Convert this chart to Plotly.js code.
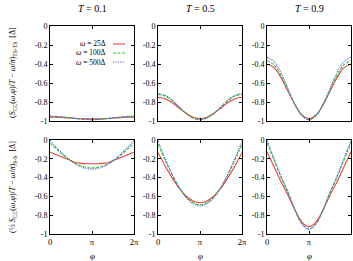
<!DOCTYPE html>
<html>
<head>
<meta charset="utf-8">
<script src="https://cdn.plot.ly/plotly-3.0.1.min.js"></script>
<style>
  html, body { margin: 0; padding: 0; background: #fff; }
  #chart { width: 353px; height: 261px; }
</style>
</head>
<body>
<div id="chart"></div>
<script>
// phase phi in units of pi
const phiOverPi = [0, 0.1667, 0.3333, 0.5, 0.6667, 0.8333, 1, 1.1667, 1.3333, 1.5, 1.6667, 1.8333, 2];

const temperatures = ['0.1', '0.5', '0.9'];
const seriesNames = ['ω = 25Δ', 'ω = 100Δ', 'ω = 500Δ'];

const xTickVals = [0, 1, 2];
const xTickText = ['0', 'π', '2π'];
const yTickVals = [0, -0.2, -0.4, -0.6, -0.8, -1];
const yTickText = ['0', '-0.2', '-0.4', '-0.6', '-0.8', '-1'];

// TS-TS channel, T = 0.1
const tsT01_w25  = [-0.960, -0.961, -0.965, -0.969, -0.974, -0.977, -0.978, -0.977, -0.974, -0.969, -0.965, -0.961, -0.960];
const tsT01_w100 = [-0.952, -0.954, -0.960, -0.969, -0.977, -0.983, -0.985, -0.983, -0.977, -0.969, -0.960, -0.954, -0.952];
const tsT01_w500 = [-0.948, -0.951, -0.958, -0.967, -0.977, -0.983, -0.986, -0.983, -0.977, -0.967, -0.958, -0.951, -0.948];
// TS-TS channel, T = 0.5
const tsT05_w25  = [-0.750, -0.765, -0.806, -0.863, -0.919, -0.960, -0.975, -0.960, -0.919, -0.863, -0.806, -0.765, -0.750];
const tsT05_w100 = [-0.720, -0.738, -0.786, -0.853, -0.919, -0.967, -0.985, -0.967, -0.919, -0.853, -0.786, -0.738, -0.720];
const tsT05_w500 = [-0.710, -0.729, -0.779, -0.849, -0.918, -0.968, -0.987, -0.968, -0.918, -0.849, -0.779, -0.729, -0.710];
// TS-TS channel, T = 0.9
const tsT09_w25  = [-0.400, -0.439, -0.544, -0.688, -0.831, -0.936, -0.975, -0.936, -0.831, -0.688, -0.544, -0.439, -0.400];
const tsT09_w100 = [-0.365, -0.407, -0.520, -0.675, -0.830, -0.943, -0.985, -0.943, -0.830, -0.675, -0.520, -0.407, -0.365];
const tsT09_w500 = [-0.330, -0.374, -0.494, -0.659, -0.823, -0.943, -0.987, -0.943, -0.823, -0.659, -0.494, -0.374, -0.330];

// S-S channel, T = 0.1
const ssT01_w25  = [-0.130, -0.160, -0.190, -0.220, -0.245, -0.252, -0.252, -0.252, -0.245, -0.220, -0.190, -0.160, -0.130];
const ssT01_w100 = [-0.035, -0.103, -0.166, -0.221, -0.263, -0.288, -0.297, -0.288, -0.263, -0.221, -0.166, -0.103, -0.035];
const ssT01_w500 = [-0.005, -0.084, -0.158, -0.222, -0.270, -0.300, -0.310, -0.300, -0.270, -0.222, -0.158, -0.084, -0.005];
// S-S channel, T = 0.5
const ssT05_w25  = [-0.135, -0.273, -0.400, -0.511, -0.596, -0.648, -0.665, -0.648, -0.596, -0.511, -0.400, -0.273, -0.135];
const ssT05_w100 = [-0.045, -0.212, -0.367, -0.502, -0.604, -0.667, -0.688, -0.667, -0.604, -0.502, -0.367, -0.212, -0.045];
const ssT05_w500 = [-0.015, -0.192, -0.358, -0.501, -0.611, -0.677, -0.700, -0.677, -0.611, -0.501, -0.358, -0.192, -0.015];
// S-S channel, T = 0.9
const ssT09_w25  = [-0.125, -0.284, -0.444, -0.587, -0.747, -0.874, -0.922, -0.874, -0.747, -0.587, -0.444, -0.284, -0.125];
const ssT09_w100 = [-0.030, -0.213, -0.397, -0.562, -0.745, -0.892, -0.947, -0.892, -0.745, -0.562, -0.397, -0.213, -0.030];
const ssT09_w500 = [-0.005, -0.194, -0.383, -0.553, -0.742, -0.893, -0.950, -0.893, -0.742, -0.553, -0.383, -0.194, -0.005];

const panels = [
  [tsT01_w25, tsT01_w100, tsT01_w500],
  [tsT05_w25, tsT05_w100, tsT05_w500],
  [tsT09_w25, tsT09_w100, tsT09_w500],
  [ssT01_w25, ssT01_w100, ssT01_w500],
  [ssT05_w25, ssT05_w100, ssT05_w500],
  [ssT09_w25, ssT09_w100, ssT09_w500]
];

const W = 353, H = 261;
const lineStyles = [
  { color: '#e8403a', dash: 'solid', width: 1.1 },
  { color: '#30c030', dash: '3px,1.5px', width: 1.1 },
  { color: '#5060e0', dash: '1.2px,1.2px', width: 1.1 }
];

// panel frames in pixels
const colPx = [[50, 134], [158, 242], [267, 351]];
const rowPx = [[26, 121], [140, 234]];
const FONT = "'Liberation Serif', 'Times New Roman', serif";

const traces = [];
const layout = {
  width: W, height: H,
  margin: { l: 0, r: 0, t: 0, b: 0 },
  paper_bgcolor: '#fff', plot_bgcolor: '#fff',
  showlegend: false,
  font: { family: FONT, size: 8, color: '#000' },
  annotations: [],
  shapes: []
};

panels.forEach((series, i) => {
  const r = Math.floor(i / 3), c = i % 3;
  const n = i + 1;
  const sfx = n === 1 ? '' : String(n);
  series.forEach((vals, s) => {
    traces.push({
      x: phiOverPi, y: vals, xaxis: 'x' + sfx, yaxis: 'y' + sfx,
      type: 'scatter', mode: 'lines', name: seriesNames[s],
      line: Object.assign({ shape: 'spline', smoothing: 1 }, lineStyles[s]),
      hoverinfo: 'skip'
    });
  });
  layout['xaxis' + sfx] = {
    domain: [colPx[c][0] / W, colPx[c][1] / W],
    anchor: 'y' + sfx,
    range: [0, 2], tickvals: xTickVals, ticktext: xTickText,
    showticklabels: r === 1,
    ticks: 'inside', ticklen: 3, tickcolor: '#000', tickwidth: 1,
    showline: true, linecolor: '#000', linewidth: 1, mirror: 'allticks',
    showgrid: false, zeroline: false, fixedrange: true,
    tickfont: { family: FONT, size: 8.5, color: '#000' }
  };
  layout['yaxis' + sfx] = {
    domain: [1 - rowPx[r][1] / H, 1 - rowPx[r][0] / H],
    anchor: 'x' + sfx,
    range: [-1, 0], tickvals: yTickVals, ticktext: yTickText,
    ticks: 'inside', ticklen: 3, tickcolor: '#000', tickwidth: 1,
    showline: true, linecolor: '#000', linewidth: 1, mirror: 'allticks',
    showgrid: false, zeroline: false, fixedrange: true,
    tickfont: { family: FONT, size: 8, color: '#000' }
  };
});

// column titles and phase labels
temperatures.forEach((t, c) => {
  const cx = (colPx[c][0] + colPx[c][1]) / 2 / W;
  layout.annotations.push({
    xref: 'paper', yref: 'paper', x: cx, y: 1 - 8 / H,
    xanchor: 'center', yanchor: 'middle', showarrow: false,
    text: '<i>T</i> = ' + t, font: { family: FONT, size: 10, color: '#000' }
  });
  layout.annotations.push({
    xref: 'paper', yref: 'paper', x: cx, y: 1 - 256 / H,
    xanchor: 'center', yanchor: 'middle', showarrow: false,
    text: '<i>φ</i>', font: { family: FONT, size: 9, color: '#000' }
  });
});

// row axis titles
layout.annotations.push({
  xref: 'paper', yref: 'paper', x: 13 / W, y: 1 - 73 / H,
  xanchor: 'center', yanchor: 'middle', showarrow: false, textangle: -90,
  text: '(<i>S</i><sub>CC</sub>(<i>ω</i>,<i>φ</i>)/<i>T</i> − <i>ω</i>/<i>π</i>)<sub>TS-TS</sub>  [Δ]',
  font: { family: FONT, size: 8, color: '#000' }
});
layout.annotations.push({
  xref: 'paper', yref: 'paper', x: 13 / W, y: 1 - 187 / H,
  xanchor: 'center', yanchor: 'middle', showarrow: false, textangle: -90,
  text: '(½ <i>S</i><sub>CC</sub>(<i>ω</i>,<i>φ</i>)/<i>T</i> − <i>ω</i>/<i>π</i>)<sub>S-S</sub>  [Δ]',
  font: { family: FONT, size: 8, color: '#000' }
});

// key inside the first panel: label on the left, line sample on the right
const keyRowsPx = [44, 53, 62];
seriesNames.forEach((name, s) => {
  const yPaper = 1 - keyRowsPx[s] / H;
  layout.annotations.push({
    xref: 'paper', yref: 'paper', x: 108 / W, y: yPaper,
    xanchor: 'right', yanchor: 'middle', showarrow: false,
    text: name.replace('ω', '<i>ω</i>'),
    font: { family: FONT, size: 7.5, color: '#000' }
  });
  layout.shapes.push({
    type: 'line', xref: 'paper', yref: 'paper',
    x0: 113 / W, x1: 125 / W, y0: yPaper, y1: yPaper,
    line: { color: lineStyles[s].color, width: lineStyles[s].width, dash: lineStyles[s].dash }
  });
});

Plotly.newPlot('chart', traces, layout, { displayModeBar: false, staticPlot: true });
</script>
</body>
</html>
